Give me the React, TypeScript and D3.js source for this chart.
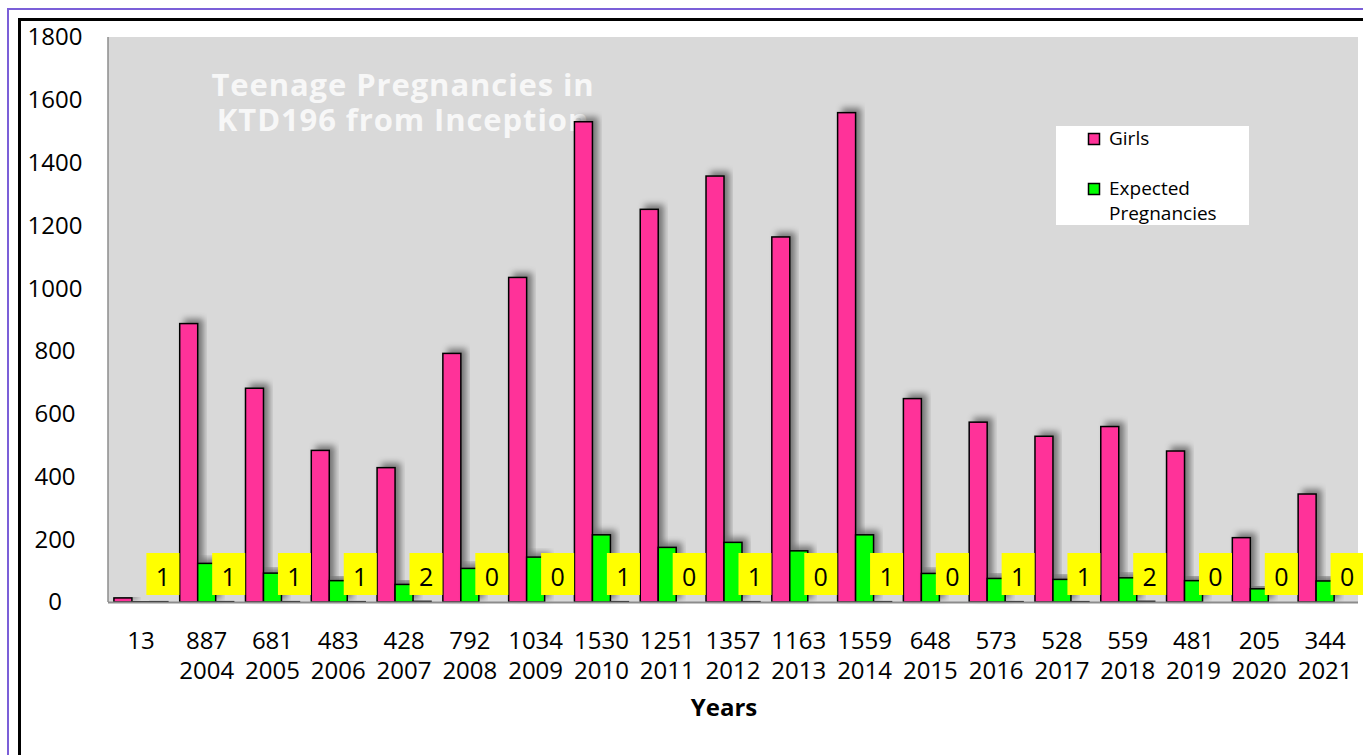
import React from 'react';
import * as d3 from 'd3';

const years = ['', '2004', '2005', '2006', '2007', '2008', '2009', '2010', '2011', '2012', '2013', '2014', '2015', '2016', '2017', '2018', '2019', '2020', '2021'];
const girls = [13, 887, 681, 483, 428, 792, 1034, 1530, 1251, 1357, 1163, 1559, 648, 573, 528, 559, 481, 205, 344];
const expected = [2, 123, 92, 68, 56, 107, 143, 214, 174, 190, 163, 214, 91, 75, 72, 77, 68, 42, 67];
const actual = [1, 1, 1, 1, 2, 0, 0, 1, 0, 1, 0, 1, 0, 1, 1, 2, 0, 0, 0];
const yTicks = [0, 200, 400, 600, 800, 1000, 1200, 1400, 1600, 1800];

const W = 1363;
const H = 755;
const plot = { left: 108, right: 1358, top: 37, bottom: 602 };
const font = '"Open Sans", "Noto Sans", sans-serif';

const App = () => {
  const x = d3.scaleBand<number>()
    .domain(d3.range(girls.length))
    .range([plot.left, plot.right])
    .paddingInner(0.18)
    .paddingOuter(0.09);
  const inner = d3.scaleBand<string>()
    .domain(['girls', 'expected', 'actual'])
    .range([0, x.bandwidth()]);
  const y = d3.scaleLinear().domain([0, 1800]).range([plot.bottom, plot.top]);

  const bar = (vals: number[], key: string, fill: string, shadow: boolean) =>
    vals.map((v, i) => (
      <rect
        key={key + i}
        x={(x(i) as number) + (inner(key) as number)}
        y={y(v)}
        width={inner.bandwidth()}
        height={plot.bottom - y(v)}
        fill={fill}
        stroke="#000"
        strokeWidth={1.5}
        filter={shadow ? 'url(#shadow)' : undefined}
      />
    ));

  return (
    <svg width={W} height={H} style={{ position: 'absolute', left: 0, top: 0, background: '#fff' }}>
      <defs>
        <filter id="shadow" x="-50%" y="-20%" width="200%" height="140%">
          <feDropShadow dx={5} dy={-4} stdDeviation={3} floodColor="#000" floodOpacity={0.45} />
        </filter>
      </defs>

      <rect x={8} y={9} width={W + 20} height={H + 20} fill="none" stroke="#7B5FD8" strokeWidth={2} />
      <rect x={19.5} y={19.5} width={W + 20} height={H + 20} fill="none" stroke="#000" strokeWidth={3} />

      <rect x={plot.left} y={plot.top} width={plot.right - plot.left} height={plot.bottom - plot.top} fill="#D9D9D9" />
      <line x1={plot.left} x2={plot.left} y1={plot.top} y2={plot.bottom} stroke="#8c8c8c" strokeWidth={1.5} />

      <text x={403} y={96} textAnchor="middle" fontFamily={font} fontWeight="bold" fontSize={31} letterSpacing={0.9} fill="#F7F7F7">Teenage Pregnancies in</text>
      <text x={403} y={131} textAnchor="middle" fontFamily={font} fontWeight="bold" fontSize={31} letterSpacing={0.9} fill="#F7F7F7">KTD196 from Inception</text>

      {bar(girls, 'girls', '#FF3399', true)}
      {bar(expected, 'expected', '#00FF00', true)}
      {bar(actual, 'actual', '#FFFFFF', false)}

      <line x1={plot.left} x2={plot.right} y1={plot.bottom + 0.5} y2={plot.bottom + 0.5} stroke="#8c8c8c" strokeWidth={2} />

      {actual.map((v, i) => {
        const cx = (x(i) as number) + (inner('actual') as number) + inner.bandwidth() / 2 + 4;
        return (
          <g key={'lab' + i}>
            <rect x={cx - 16.5} y={553} width={33} height={42} fill="#FFFF00" />
            <text x={cx} y={586} textAnchor="middle" fontFamily={font} fontSize={25} fill="#000">{v}</text>
          </g>
        );
      })}

      {yTicks.map((t) => (
        <text key={'yt' + t} x={55} y={y(t)} dy="0.35em" textAnchor="middle" fontFamily={font} fontSize={24} fill="#000">{t}</text>
      ))}

      {girls.map((v, i) => {
        const cx = (x(i) as number) + x.bandwidth() / 2;
        return (
          <g key={'xl' + i}>
            <text x={cx} y={649} textAnchor="middle" fontFamily={font} fontSize={24} fill="#000">{v}</text>
            <text x={cx} y={679} textAnchor="middle" fontFamily={font} fontSize={24} fill="#000">{years[i]}</text>
          </g>
        );
      })}
      <text x={724} y={716} textAnchor="middle" fontFamily={font} fontWeight="bold" fontSize={24} fill="#000">Years</text>

      <rect x={1056} y={126} width={193} height={99} fill="#fff" />
      <rect x={1088.5} y={133.5} width={11} height={11} fill="#FF3399" stroke="#000" strokeWidth={1.5} />
      <text x={1109} y={145} fontFamily={font} fontSize={19} fill="#000">Girls</text>
      <rect x={1088.5} y={183.5} width={11} height={11} fill="#00FF00" stroke="#000" strokeWidth={1.5} />
      <text x={1109} y={195} fontFamily={font} fontSize={19} fill="#000">Expected</text>
      <text x={1109} y={220} fontFamily={font} fontSize={19} fill="#000">Pregnancies</text>
    </svg>
  );
};

export default App;
